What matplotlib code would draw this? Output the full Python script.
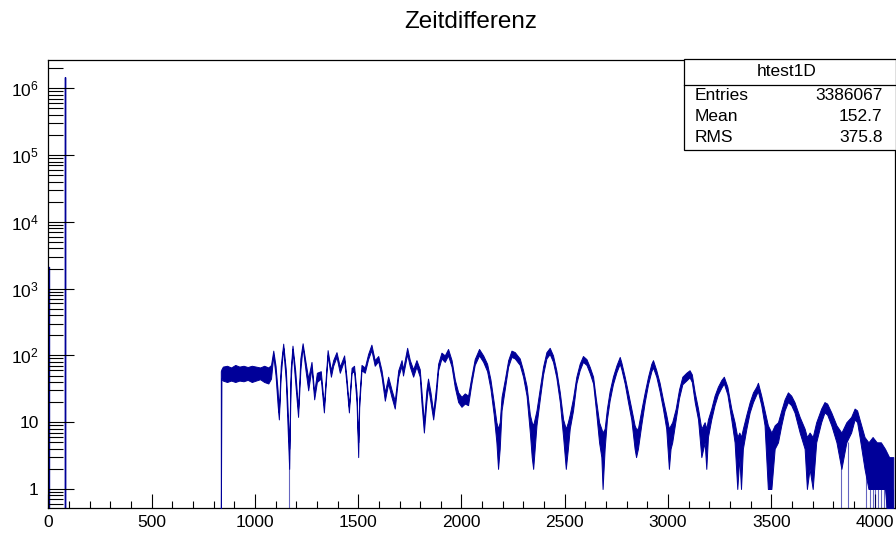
import numpy as np
import matplotlib
matplotlib.use("Agg")
import matplotlib.pyplot as plt
from matplotlib.ticker import FixedLocator, FixedFormatter, LogLocator, NullFormatter
from matplotlib.lines import Line2D
from matplotlib.patches import Rectangle

plt.rcParams['font.family'] = ['Liberation Sans', 'DejaVu Sans']
plt.rcParams['mathtext.fontset'] = 'custom'
plt.rcParams['mathtext.rm'] = 'Liberation Sans'

# ---- histogram content -------------------------------------------------
title = "Zeitdifferenz"
hist_name = "htest1D"
stat_names = ["Entries", "Mean", "RMS"]
stat_values = ["3386067", "152.7", "375.8"]

# prompt peak (bin low edges and counts)
peak_edges = [0, 1, 80, 81, 82, 83, 84]
peak_counts = [2100, 0, 0, 1.45e6, 17, 0]

# delayed region: bin position, lower and upper envelope of the counts
t_pos = [835, 838, 845, 865, 885, 905, 925, 945, 965, 985, 1005, 1025, 1045, 1065, 1078,
         1089, 1100, 1110, 1116, 1125, 1137, 1150, 1160, 1166, 1173, 1182, 1195, 1209, 1220,
         1231, 1245, 1258, 1274, 1287, 1300, 1319, 1334, 1352, 1368, 1379, 1395, 1411, 1432,
         1443, 1455, 1468, 1480, 1492, 1500, 1505, 1516, 1532, 1548, 1564, 1580, 1597, 1613,
         1629, 1645, 1661, 1677, 1694, 1710, 1717, 1737, 1750, 1766, 1782, 1798, 1806, 1818,
         1830, 1838, 1850, 1863, 1876, 1887, 1903, 1919, 1935, 1952, 1968, 1984, 2000, 2016,
         2032, 2048, 2064, 2085, 2105, 2124, 2140, 2156, 2169, 2177, 2185, 2194, 2210, 2226,
         2242, 2258, 2282, 2298, 2315, 2331, 2340, 2347, 2363, 2379, 2395, 2411, 2427, 2443,
         2459, 2476, 2492, 2505, 2515, 2524, 2540, 2556, 2572, 2588, 2605, 2621, 2637, 2650,
         2666, 2677, 2683, 2693, 2704, 2717, 2733, 2750, 2766, 2774, 2790, 2806, 2822, 2838,
         2845, 2854, 2870, 2887, 2903, 2919, 2927, 2943, 2959, 2975, 2991, 3004, 3012, 3020,
         3037, 3053, 3069, 3088, 3104, 3115, 3129, 3145, 3161, 3177, 3185, 3193, 3209, 3225,
         3241, 3258, 3270, 3287, 3306, 3322, 3335, 3345, 3353, 3362, 3379, 3395, 3411, 3427,
         3435, 3451, 3467, 3483, 3500, 3516, 3532, 3548, 3564, 3580, 3596, 3612, 3637, 3661,
         3672, 3685, 3700, 3717, 3741, 3757, 3770, 3790, 3815, 3839, 3863, 3886, 3903, 3915,
         3927, 3951, 3970, 3990, 4010, 4030, 4050, 4070, 4090]
counts_low = [0, 45, 42, 40, 42, 40, 42, 41, 43, 40, 42, 44, 40, 38, 45,
              100, 50, 18, 11, 50, 130, 40, 6, 2, 40, 125, 40, 12, 60,
              135, 60, 30, 65, 22, 40, 45, 14, 100, 48, 70, 95, 55, 85,
              38, 14, 55, 58, 20, 3, 17, 60, 55, 88, 120, 70, 82, 48,
              21, 38, 24, 16, 48, 70, 50, 105, 68, 48, 68, 48, 20, 7,
              20, 35, 20, 11, 23, 60, 90, 80, 100, 68, 33, 20, 17, 19,
              18, 38, 72, 100, 80, 58, 32, 13, 5, 2, 4, 15, 32, 68,
              95, 90, 72, 48, 25, 7, 3, 2, 9, 22, 52, 90, 105, 80,
              47, 20, 6, 2, 4, 8, 15, 38, 60, 80, 72, 54, 38, 16,
              5, 3, 1, 4, 11, 21, 37, 56, 75, 62, 38, 20, 11, 4,
              3, 4, 9, 20, 37, 58, 66, 48, 29, 16, 8, 2, 4, 5,
              11, 23, 37, 42, 47, 40, 20, 11, 3, 5, 2, 6, 11, 18,
              26, 33, 38, 26, 11, 5, 1, 3, 1, 4, 8, 14, 20, 26,
              29, 18, 9, 1, 1, 4, 5, 9, 15, 20, 18, 14, 7, 4,
              1, 2, 1, 5, 10, 14, 13, 9, 5, 2, 5, 7, 11, 10,
              6, 2, 1, 1, 1, 1, 1, 0, 0]
counts_high = [58, 62, 68, 70, 66, 72, 68, 70, 67, 70, 68, 66, 70, 66, 72,
               118, 70, 30, 14, 70, 150, 60, 12, 4, 60, 140, 60, 16, 90,
               152, 80, 45, 80, 28, 55, 58, 18, 120, 60, 85, 112, 68, 100,
               48, 17, 65, 70, 28, 5, 22, 72, 66, 105, 145, 85, 98, 60,
               28, 48, 31, 21, 60, 85, 62, 130, 85, 62, 85, 62, 30, 10,
               30, 45, 28, 14, 32, 75, 110, 100, 125, 85, 43, 28, 24, 27,
               25, 48, 88, 125, 100, 75, 44, 20, 10, 8, 10, 24, 44, 85,
               118, 112, 90, 60, 35, 13, 10, 9, 15, 32, 68, 112, 130, 100,
               60, 28, 11, 8, 10, 13, 23, 48, 75, 98, 88, 67, 48, 23,
               10, 8, 7, 8, 16, 29, 48, 71, 95, 78, 48, 28, 16, 9,
               8, 8, 15, 28, 48, 75, 85, 60, 39, 22, 13, 8, 9, 10,
               16, 31, 48, 55, 60, 52, 28, 16, 8, 10, 8, 11, 16, 25,
               34, 43, 48, 34, 16, 10, 6, 7, 6, 8, 13, 20, 28, 34,
               39, 25, 15, 9, 7, 9, 10, 15, 22, 28, 25, 20, 12, 8,
               6, 7, 6, 10, 16, 20, 19, 14, 9, 7, 10, 12, 16, 15,
               11, 6, 5, 6, 5, 5, 4, 3, 3]

# single empty bins inside the delayed region, and the count they join back to
empty_bins = [1166, 3838, 3872, 3958, 3976, 3992, 4004, 4018, 4031, 4044, 4056, 4064,
              4072, 4080, 4088]
empty_join = [3, 3, 5, 2, 2, 2, 2, 2, 2, 2, 1, 1, 1, 1, 1]

# axis ticks
x_major = [0, 500, 1000, 1500, 2000, 2500, 3000, 3500, 4000]
x_major_labels = ["0", "500", "1000", "1500", "2000", "2500", "3000", "3500", "4000"]
y_major = [1, 10, 1e2, 1e3, 1e4, 1e5, 1e6]
y_major_labels = ["1", "10", r"$\mathregular{10^{2}}$", r"$\mathregular{10^{3}}$",
                  r"$\mathregular{10^{4}}$", r"$\mathregular{10^{5}}$", r"$\mathregular{10^{6}}$"]

# ---- drawing -----------------------------------------------------------
line_col = "#000099"
y_min, y_max = 0.514, 2.65e6
floor = 0.2  # empty bins are drawn below the visible range

fig = plt.figure(figsize=(8.96, 5.33), dpi=100)
ax = fig.add_axes([48.3 / 896, 1 - 508.3 / 533, (894.5 - 48.3) / 896, (508.3 - 60) / 533])

ax.set_yscale("log")
ax.set_xlim(0, 4096)
ax.set_ylim(y_min, y_max)

# prompt peak as a step outline
pc = np.maximum(np.asarray(peak_counts, dtype=float), floor)
ax.stairs(pc, peak_edges, baseline=floor, color=line_col, lw=1.0)

# delayed region as a filled envelope of the noisy bin contents
tp = np.asarray(t_pos, dtype=float)
lo = np.maximum(np.asarray(counts_low, dtype=float), floor)
hi = np.asarray(counts_high, dtype=float)
ax.fill_between(tp, lo, hi, facecolor=line_col, edgecolor=line_col, lw=0.7, zorder=3)

# empty bins reaching down to the axis
ax.vlines(empty_bins, floor, empty_join, colors=line_col, lw=0.8, alpha=0.6, zorder=3)

# ticks
ax.xaxis.set_major_locator(FixedLocator(x_major))
ax.xaxis.set_major_formatter(FixedFormatter(x_major_labels))
ax.xaxis.set_minor_locator(FixedLocator(np.arange(0, 4097, 100)))
ax.yaxis.set_major_locator(FixedLocator(y_major))
ax.yaxis.set_major_formatter(FixedFormatter(y_major_labels))
ax.yaxis.set_minor_locator(LogLocator(base=10, subs=np.arange(2, 10), numticks=20))
ax.yaxis.set_minor_formatter(NullFormatter())

ax.tick_params(axis="x", which="major", direction="in", length=10, width=0.8,
               labelsize=12.5, pad=5, top=False)
ax.tick_params(axis="x", which="minor", direction="in", length=5, width=0.8, top=False)
ax.tick_params(axis="y", which="major", direction="in", length=18.5, width=0.8,
               labelsize=12.5, pad=7, right=False)
ax.tick_params(axis="y", which="minor", direction="in", length=10.5, width=0.8, right=False)
for s in ax.spines.values():
    s.set_linewidth(0.9)
    s.set_color("black")

# title
fig.text(471 / 896, 1 - 22 / 533, title, ha="center", va="center", fontsize=17.5)

# statistics box (figure pixel coordinates converted to fractions)
W, H = 896.0, 533.0
bx0, bx1, by0, by1 = 684.3, 895.5, 59.0, 149.5
fig.add_artist(Rectangle((bx0 / W, 1 - by1 / H), (bx1 - bx0) / W, (by1 - by0) / H,
                         transform=fig.transFigure, facecolor="white",
                         edgecolor="black", lw=0.9, zorder=5))
fig.add_artist(Line2D([bx0 / W, bx1 / W], [1 - 85 / H, 1 - 85 / H],
                      transform=fig.transFigure, color="black", lw=0.9, zorder=6))
fig.text(786.7 / W, 1 - 72 / H, hist_name, ha="center", va="center", fontsize=12.5, zorder=7)
row_y = [95.5, 116.5, 137.5]
for name, val, yy in zip(stat_names, stat_values, row_y):
    fig.text(694.5 / W, 1 - yy / H, name, ha="left", va="center", fontsize=12.5, zorder=7)
    fig.text(882.5 / W, 1 - yy / H, val, ha="right", va="center", fontsize=12.5, zorder=7)

fig.savefig("out.png", dpi=100)
